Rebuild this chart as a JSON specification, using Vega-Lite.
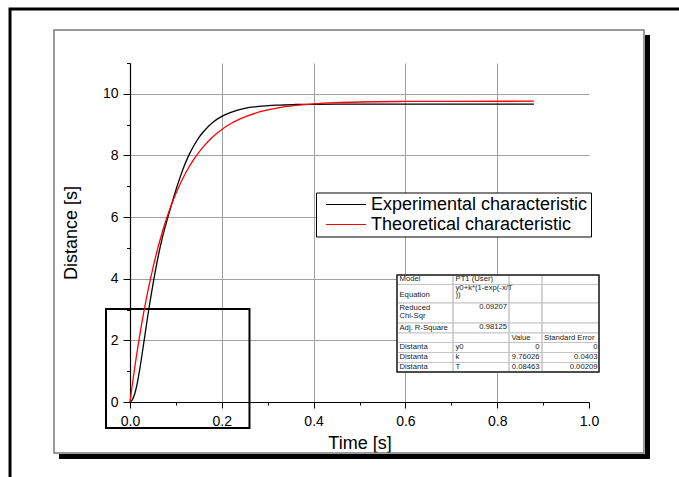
{
  "$schema": "https://vega.github.io/schema/vega-lite/v6.json",
  "width": 459,
  "height": 339,
  "autosize": {"type": "none"},
  "padding": {"left": 130, "top": 63, "right": 90, "bottom": 75},
  "background": "white",
  "config": {"view": {"stroke": null}, "font": "Liberation Sans"},
  "datasets": {
    "outer": [{"x": -0.2614, "x2": 1.32, "y": -3.4, "y2": 12.75}],
    "page": [{"x": -0.1656, "x2": 1.1198, "y": -1.655, "y2": 12.071}],
    "shadow": [
      {"x": 1.1220, "x2": 1.1329, "y": -1.850, "y2": 11.909},
      {"x": -0.1547, "x2": 1.1329, "y": -1.850, "y2": -1.687}
    ],
    "tableRows": [
      {"x": 0.5817, "x2": 1.0218, "y": 3.813, "y2": 4.121},
      {"x": 0.5817, "x2": 1.0218, "y": 3.212, "y2": 3.813},
      {"x": 0.5817, "x2": 1.0218, "y": 2.563, "y2": 3.212},
      {"x": 0.5817, "x2": 1.0218, "y": 2.239, "y2": 2.563},
      {"x": 0.5817, "x2": 1.0218, "y": 1.931, "y2": 2.239},
      {"x": 0.5817, "x2": 1.0218, "y": 1.606, "y2": 1.931},
      {"x": 0.5817, "x2": 1.0218, "y": 1.282, "y2": 1.606},
      {"x": 0.5817, "x2": 1.0218, "y": 0.973, "y2": 1.282}
    ],
    "tableCols": [
      {"x": 0.5817, "x2": 0.7037, "y": 0.973, "y2": 4.121},
      {"x": 0.7037, "x2": 0.8257, "y": 0.973, "y2": 4.121},
      {"x": 0.8257, "x2": 0.8976, "y": 0.973, "y2": 4.121},
      {"x": 0.8976, "x2": 1.0218, "y": 0.973, "y2": 4.121}
    ],
    "tableBox": [{"x": 0.5817, "x2": 1.0218, "y": 0.973, "y2": 4.121}],
    "textLeft": [
      {"x": 0.5871, "y": 3.991, "t": "Model"},
      {"x": 0.7092, "y": 3.991, "t": "PT1 (User)"},
      {"x": 0.5871, "y": 3.472, "t": "Equation"},
      {"x": 0.7092, "y": 3.699, "t": "y0+k*(1-exp(-x/T"},
      {"x": 0.7092, "y": 3.456, "t": "))"},
      {"x": 0.5871, "y": 3.050, "t": "Reduced"},
      {"x": 0.5871, "y": 2.791, "t": "Chi-Sqr"},
      {"x": 0.5871, "y": 2.401, "t": "Adj. R-Square"},
      {"x": 0.8312, "y": 2.086, "t": "Value"},
      {"x": 0.9020, "y": 2.086, "t": "Standard Error"},
      {"x": 0.5871, "y": 1.775, "t": "Distanta"},
      {"x": 0.7092, "y": 1.775, "t": "y0"},
      {"x": 0.5871, "y": 1.450, "t": "Distanta"},
      {"x": 0.7092, "y": 1.450, "t": "k"},
      {"x": 0.5871, "y": 1.126, "t": "Distanta"},
      {"x": 0.7092, "y": 1.126, "t": "T"}
    ],
    "textRight": [
      {"x": 0.8214, "y": 3.083, "t": "0.09207"},
      {"x": 0.8214, "y": 2.434, "t": "0.98125"},
      {"x": 0.8922, "y": 1.775, "t": "0"},
      {"x": 1.0185, "y": 1.775, "t": "0"},
      {"x": 0.8922, "y": 1.450, "t": "9.76026"},
      {"x": 1.0185, "y": 1.450, "t": "0.0403"},
      {"x": 0.8922, "y": 1.126, "t": "0.08463"},
      {"x": 1.0185, "y": 1.126, "t": "0.00209"}
    ],
    "box": [{"x": -0.0523, "x2": 0.2603, "y": -0.844, "y2": 3.018}],
    "curves": [
      {"series": "Experimental characteristic", "x": 0, "y": 0},
      {"series": "Experimental characteristic", "x": 0.005, "y": 0.07},
      {"series": "Experimental characteristic", "x": 0.01, "y": 0.25},
      {"series": "Experimental characteristic", "x": 0.015, "y": 0.55},
      {"series": "Experimental characteristic", "x": 0.02, "y": 0.95},
      {"series": "Experimental characteristic", "x": 0.025, "y": 1.42},
      {"series": "Experimental characteristic", "x": 0.03, "y": 1.92},
      {"series": "Experimental characteristic", "x": 0.035, "y": 2.42},
      {"series": "Experimental characteristic", "x": 0.04, "y": 2.92},
      {"series": "Experimental characteristic", "x": 0.045, "y": 3.38},
      {"series": "Experimental characteristic", "x": 0.05, "y": 3.82},
      {"series": "Experimental characteristic", "x": 0.06, "y": 4.62},
      {"series": "Experimental characteristic", "x": 0.07, "y": 5.3},
      {"series": "Experimental characteristic", "x": 0.08, "y": 5.86},
      {"series": "Experimental characteristic", "x": 0.09, "y": 6.38},
      {"series": "Experimental characteristic", "x": 0.1, "y": 6.88},
      {"series": "Experimental characteristic", "x": 0.11, "y": 7.33},
      {"series": "Experimental characteristic", "x": 0.12, "y": 7.73},
      {"series": "Experimental characteristic", "x": 0.13, "y": 8.06},
      {"series": "Experimental characteristic", "x": 0.14, "y": 8.34},
      {"series": "Experimental characteristic", "x": 0.15, "y": 8.58},
      {"series": "Experimental characteristic", "x": 0.16, "y": 8.77},
      {"series": "Experimental characteristic", "x": 0.18, "y": 9.07},
      {"series": "Experimental characteristic", "x": 0.2, "y": 9.27},
      {"series": "Experimental characteristic", "x": 0.22, "y": 9.4},
      {"series": "Experimental characteristic", "x": 0.25, "y": 9.53},
      {"series": "Experimental characteristic", "x": 0.28, "y": 9.593},
      {"series": "Experimental characteristic", "x": 0.32, "y": 9.635},
      {"series": "Experimental characteristic", "x": 0.36, "y": 9.653},
      {"series": "Experimental characteristic", "x": 0.4, "y": 9.66},
      {"series": "Experimental characteristic", "x": 0.45, "y": 9.664},
      {"series": "Experimental characteristic", "x": 0.88, "y": 9.665},
      {"series": "Theoretical characteristic", "x": 0, "y": 0},
      {"series": "Theoretical characteristic", "x": 0.005, "y": 0.56},
      {"series": "Theoretical characteristic", "x": 0.01, "y": 1.088},
      {"series": "Theoretical characteristic", "x": 0.015, "y": 1.585},
      {"series": "Theoretical characteristic", "x": 0.02, "y": 2.054},
      {"series": "Theoretical characteristic", "x": 0.03, "y": 2.913},
      {"series": "Theoretical characteristic", "x": 0.04, "y": 3.676},
      {"series": "Theoretical characteristic", "x": 0.05, "y": 4.354},
      {"series": "Theoretical characteristic", "x": 0.06, "y": 4.957},
      {"series": "Theoretical characteristic", "x": 0.07, "y": 5.492},
      {"series": "Theoretical characteristic", "x": 0.08, "y": 5.968},
      {"series": "Theoretical characteristic", "x": 0.09, "y": 6.391},
      {"series": "Theoretical characteristic", "x": 0.1, "y": 6.766},
      {"series": "Theoretical characteristic", "x": 0.12, "y": 7.396},
      {"series": "Theoretical characteristic", "x": 0.14, "y": 7.894},
      {"series": "Theoretical characteristic", "x": 0.16, "y": 8.287},
      {"series": "Theoretical characteristic", "x": 0.18, "y": 8.597},
      {"series": "Theoretical characteristic", "x": 0.2, "y": 8.842},
      {"series": "Theoretical characteristic", "x": 0.22, "y": 9.035},
      {"series": "Theoretical characteristic", "x": 0.24, "y": 9.188},
      {"series": "Theoretical characteristic", "x": 0.28, "y": 9.403},
      {"series": "Theoretical characteristic", "x": 0.32, "y": 9.538},
      {"series": "Theoretical characteristic", "x": 0.36, "y": 9.622},
      {"series": "Theoretical characteristic", "x": 0.4, "y": 9.674},
      {"series": "Theoretical characteristic", "x": 0.45, "y": 9.712},
      {"series": "Theoretical characteristic", "x": 0.5, "y": 9.734},
      {"series": "Theoretical characteristic", "x": 0.6, "y": 9.752},
      {"series": "Theoretical characteristic", "x": 0.7, "y": 9.758},
      {"series": "Theoretical characteristic", "x": 0.88, "y": 9.76}
    ]
  },
  "encoding": {
    "x": {
      "field": "x",
      "type": "quantitative",
      "scale": {"domain": [0, 1], "nice": false, "zero": false},
      "axis": {
        "title": "Time [s]",
        "values": [0, 0.1, 0.2, 0.3, 0.4, 0.5, 0.6, 0.7, 0.8, 0.9, 1.0],
        "format": ".1f",
        "labelExpr": "round(datum.value*10)%2==0 ? datum.label : ''",
        "tickSize": {"condition": {"test": "round(datum.value*10)%2==1", "value": 3}, "value": 6},
        "grid": true,
        "gridColor": "#a0a0a0",
        "gridWidth": 1,
        "gridOpacity": {"condition": {"test": "round(datum.value*10)%2==1 || datum.value>0.99 || datum.value<0.01", "value": 0}, "value": 1},
        "domainColor": "black",
        "domainWidth": 1.2,
        "tickColor": "black",
        "tickWidth": 1,
        "labelFont": "Liberation Sans",
        "labelFontSize": 14,
        "labelColor": "black",
        "labelPadding": 6,
        "labelFlush": false,
        "labelOverlap": false,
        "titleFont": "Liberation Sans",
        "titleFontSize": 18,
        "titleFontWeight": "normal",
        "titleColor": "black",
        "titlePadding": 6
      }
    },
    "y": {
      "field": "y",
      "type": "quantitative",
      "scale": {"domain": [0, 11], "nice": false, "zero": false},
      "axis": {
        "title": "Distance [s]",
        "values": [0, 1, 2, 3, 4, 5, 6, 7, 8, 9, 10, 11],
        "labelExpr": "datum.value%2==0 && datum.value<=10 ? datum.label : ''",
        "tickSize": {"condition": {"test": "datum.value%2==1", "value": 3.5}, "value": 7},
        "grid": true,
        "gridColor": "#a0a0a0",
        "gridWidth": 1,
        "gridOpacity": {"condition": {"test": "datum.value%2==1 || datum.value==0", "value": 0}, "value": 1},
        "domainColor": "black",
        "domainWidth": 1.2,
        "tickColor": "black",
        "tickWidth": 1,
        "labelFont": "Liberation Sans",
        "labelFontSize": 14,
        "labelColor": "black",
        "labelPadding": 5,
        "labelOverlap": false,
        "titleFont": "Liberation Sans",
        "titleFontSize": 18,
        "titleFontWeight": "normal",
        "titleColor": "black",
        "titlePadding": 22
      }
    }
  },
  "layer": [
    {
      "data": {"name": "outer"},
      "mark": {"type": "rect", "fill": "white", "fillOpacity": 0, "stroke": "black", "strokeWidth": 3},
      "encoding": {"x2": {"field": "x2"}, "y2": {"field": "y2"}}
    },
    {
      "data": {"name": "shadow"},
      "mark": {"type": "rect", "fill": "black", "stroke": null},
      "encoding": {"x2": {"field": "x2"}, "y2": {"field": "y2"}}
    },
    {
      "data": {"name": "page"},
      "mark": {"type": "rect", "fill": "white", "fillOpacity": 0, "stroke": "#7a7a7a", "strokeWidth": 1.5},
      "encoding": {"x2": {"field": "x2"}, "y2": {"field": "y2"}}
    },
    {
      "data": {"name": "tableRows"},
      "mark": {"type": "rect", "fill": "white", "stroke": "#c4c4c4", "strokeWidth": 1},
      "encoding": {"x2": {"field": "x2"}, "y2": {"field": "y2"}}
    },
    {
      "data": {"name": "tableCols"},
      "mark": {"type": "rect", "fill": "white", "fillOpacity": 0, "stroke": "#c4c4c4", "strokeWidth": 1},
      "encoding": {"x2": {"field": "x2"}, "y2": {"field": "y2"}}
    },
    {
      "data": {"name": "tableBox"},
      "mark": {"type": "rect", "fill": "white", "fillOpacity": 0, "stroke": "#222222", "strokeWidth": 1.5},
      "encoding": {"x2": {"field": "x2"}, "y2": {"field": "y2"}}
    },
    {
      "data": {"name": "textLeft"},
      "mark": {"type": "text", "align": "left", "baseline": "middle", "font": "Liberation Sans", "fontSize": 7.7, "fill": "#222222"},
      "encoding": {"text": {"field": "t"}}
    },
    {
      "data": {"name": "textRight"},
      "mark": {"type": "text", "align": "right", "baseline": "middle", "font": "Liberation Sans", "fontSize": 7.7, "fill": "#222222"},
      "encoding": {"text": {"field": "t"}}
    },
    {
      "data": {"name": "box"},
      "mark": {"type": "rect", "fill": "white", "fillOpacity": 0, "stroke": "black", "strokeWidth": 2},
      "encoding": {"x2": {"field": "x2"}, "y2": {"field": "y2"}}
    },
    {
      "data": {"name": "curves"},
      "mark": {"type": "line", "interpolate": "monotone", "strokeWidth": 1.3},
      "encoding": {
        "color": {
          "field": "series",
          "type": "nominal",
          "scale": {"domain": ["Experimental characteristic", "Theoretical characteristic"], "range": ["black", "#ff0000"]},
          "legend": {
            "title": null,
            "orient": "none",
            "legendX": 186,
            "legendY": 129.5,
            "symbolType": "M-4,0H4",
            "symbolSize": 100,
            "symbolStrokeWidth": 1.2,
            "symbolOffset": 18,
            "labelFont": "Liberation Sans",
            "labelFontSize": 18,
            "labelColor": "black",
            "labelOffset": 16,
            "labelLimit": 400,
            "padding": 3,
            "rowPadding": 2,
            "strokeColor": "black",
            "fillColor": "white"
          }
        }
      }
    }
  ]
}
